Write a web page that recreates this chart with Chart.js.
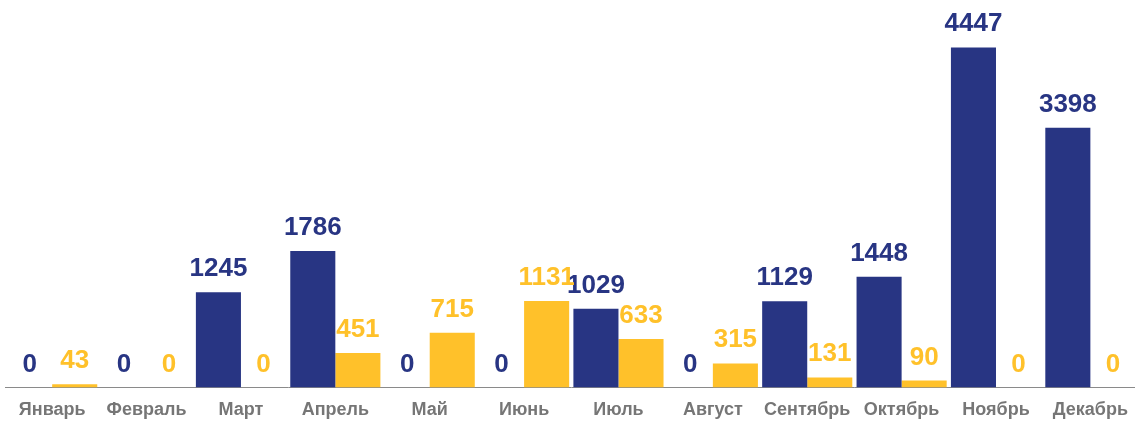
<!DOCTYPE html>
<html>
<head>
<meta charset="utf-8">
<script src="https://cdn.jsdelivr.net/npm/chart.js@4"></script>
<style>
  html, body { margin: 0; padding: 0; background: #fff; overflow: hidden; }
  #wrap { width: 1140px; height: 421px; }
</style>
</head>
<body>
<div id="wrap"><canvas id="chart"></canvas></div>
<script>
const months = ['Январь', 'Февраль', 'Март', 'Апрель', 'Май', 'Июнь', 'Июль', 'Август', 'Сентябрь', 'Октябрь', 'Ноябрь', 'Декабрь'];
const seriesBlue = [0, 0, 1245, 1786, 0, 0, 1029, 0, 1129, 1448, 4447, 3398];
const seriesYellow = [43, 0, 0, 451, 715, 1131, 633, 315, 131, 90, 0, 0];

const NAVY = '#283583';
const YELLOW = '#FFC12A';

// values above the bars
const valueLabels = {
  id: 'valueLabels',
  afterDatasetsDraw(chart) {
    const ctx = chart.ctx;
    ctx.save();
    ctx.font = 'bold 26px "Liberation Sans", Arial, sans-serif';
    ctx.textAlign = 'center';
    ctx.textBaseline = 'alphabetic';
    chart.data.datasets.forEach((ds, i) => {
      const meta = chart.getDatasetMeta(i);
      ctx.fillStyle = ds.backgroundColor;
      meta.data.forEach((bar, j) => {
        ctx.fillText(String(ds.data[j]), bar.x, bar.y - 16);
      });
    });
    ctx.restore();
  }
};

const ctx = document.getElementById('chart').getContext('2d');
new Chart(ctx, {
  type: 'bar',
  data: {
    labels: months,
    datasets: [
      {
        label: 'A',
        data: seriesBlue,
        backgroundColor: NAVY,
        categoryPercentage: 0.955,
        barPercentage: 1.0
      },
      {
        label: 'B',
        data: seriesYellow,
        backgroundColor: YELLOW,
        categoryPercentage: 0.955,
        barPercentage: 1.0
      }
    ]
  },
  options: {
    responsive: true,
    maintainAspectRatio: false,
    animation: false,
    layout: { padding: { left: 5, right: 0, top: 0, bottom: 0 } },
    plugins: {
      legend: { display: false },
      tooltip: { enabled: false }
    },
    scales: {
      x: {
        grid: { display: false, drawTicks: false },
        border: { display: true, color: '#8a8a8a', width: 1 },
        ticks: {
          color: '#767676',
          font: { family: '"Liberation Sans", Arial, sans-serif', size: 18, weight: 'bold' },
          padding: 12,
          autoSkip: false,
          maxRotation: 0
        },
        afterFit(scale) { scale.height = 33.5; }
      },
      y: {
        display: false,
        min: 0,
        max: 5068
      }
    }
  },
  plugins: [valueLabels]
});
</script>
</body>
</html>
